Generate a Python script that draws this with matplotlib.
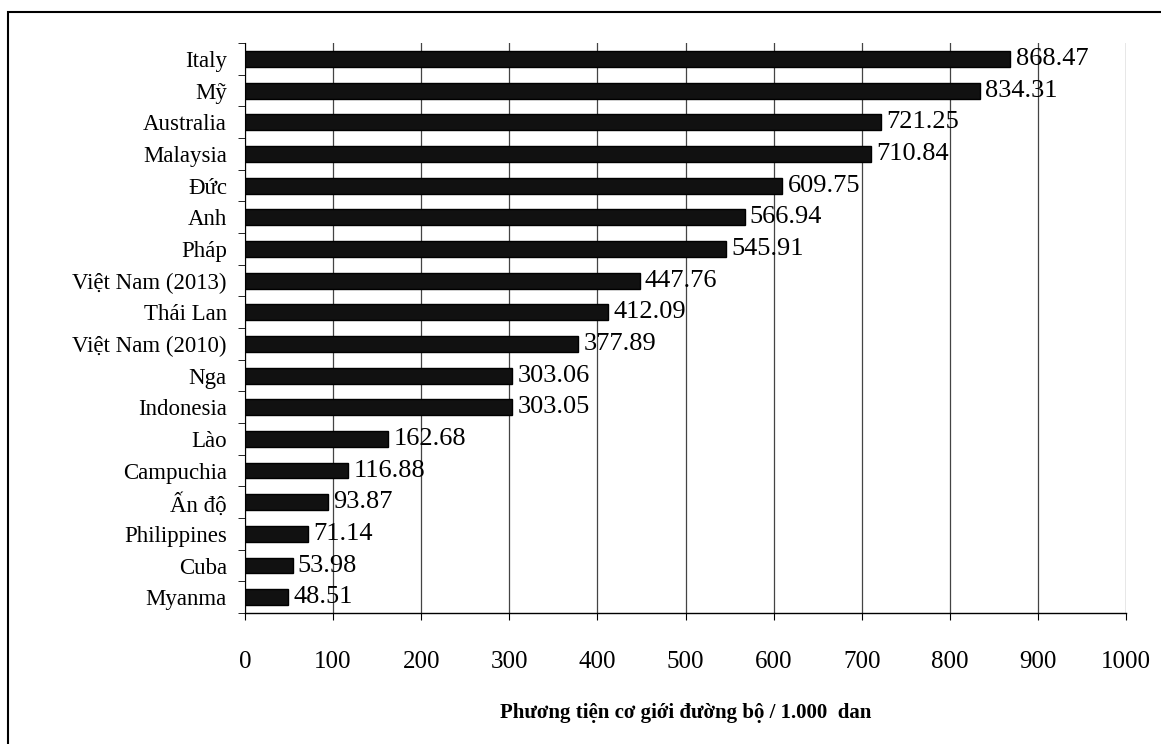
import matplotlib
matplotlib.use('Agg')
import matplotlib.pyplot as plt
from matplotlib.patches import Rectangle
from matplotlib.ticker import FixedLocator

plt.rcParams['font.family'] = ['Liberation Serif', 'DejaVu Serif']

# === DATA ===
countries = ['Italy', 'Mỹ', 'Australia', 'Malaysia', 'Đức', 'Anh', 'Pháp',
             'Việt Nam (2013)', 'Thái Lan', 'Việt Nam (2010)', 'Nga', 'Indonesia',
             'Lào', 'Campuchia', 'Ấn độ', 'Philippines', 'Cuba', 'Myanma']
values = [868.47, 834.31, 721.25, 710.84, 609.75, 566.94, 545.91,
          447.76, 412.09, 377.89, 303.06, 303.05,
          162.68, 116.88, 93.87, 71.14, 53.98, 48.51]
xticks = list(range(0, 1001, 100))
xlabel = 'Phương tiện cơ giới đường bộ / 1.000  dan'

# bottom-up order for barh
cats = countries[::-1]
vals = values[::-1]

fig = plt.figure(figsize=(11.61, 7.44), dpi=100)
ax = fig.add_axes([0.211, 0.176, 0.759, 0.766])

ypos = range(len(cats))
ax.barh(ypos, vals, height=0.5, color='#111111', edgecolor='black', zorder=3)

for y, v in zip(ypos, vals):
    ax.text(v + 6, y, f'{v:.2f}', va='center', ha='left', fontsize=19, zorder=4)

ax.set_xlim(0, 1000)
ax.set_ylim(-0.5, len(cats) - 0.5)
ax.set_xticks(xticks)
ax.set_xticklabels([str(t) for t in xticks], fontsize=18)
ax.set_yticks(list(ypos))
ax.set_yticklabels(cats, fontsize=16.5)
ax.yaxis.set_minor_locator(FixedLocator([i - 0.5 for i in range(len(cats) + 1)]))
ax.tick_params(axis='y', which='major', length=0, pad=13)
ax.tick_params(axis='y', which='minor', length=5, direction='out', color='black')
ax.tick_params(axis='x', length=5, direction='out', pad=22)

ax.grid(axis='x', color='#444444', linewidth=0.9, zorder=0)
for s in ['top', 'right']:
    ax.spines[s].set_visible(False)
ax.spines['left'].set_linewidth(0.8)
ax.spines['bottom'].set_linewidth(1.0)

ax.set_xlabel(xlabel, fontsize=15, fontweight='bold', labelpad=22)

# page border like the scanned figure
fig.patches.append(Rectangle((0.007, -0.02), 1.1, 1.004, transform=fig.transFigure,
                             fill=False, edgecolor='black', linewidth=1.5))

plt.savefig('out.png', dpi=100)
